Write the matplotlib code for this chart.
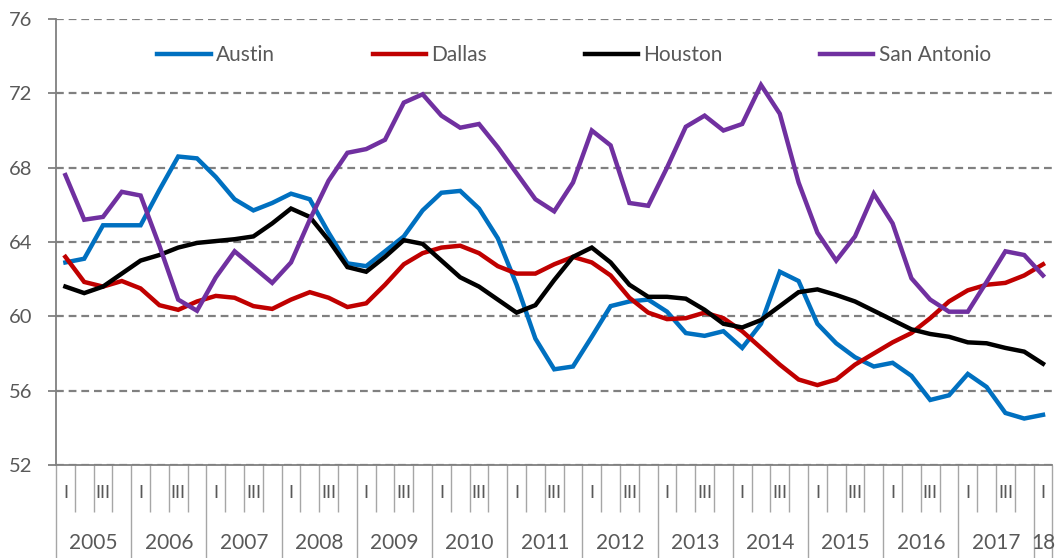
import numpy as np
import matplotlib
matplotlib.use("Agg")
import matplotlib.pyplot as plt
import matplotlib.transforms as mtrans

plt.rcParams['font.family'] = ['Lato', 'DejaVu Sans']

years = [str(y) for y in range(2005, 2018)] + ["18"]
quarter_labels = ["I", "", "III", ""]

austin = [62.9, 63.1, 64.9, 64.9, 64.9, 66.8, 68.6, 68.5, 67.5, 66.3, 65.7, 66.1, 66.6, 66.3,
          64.5, 62.85, 62.7, 63.5, 64.3, 65.7, 66.65, 66.75, 65.8, 64.2, 61.7, 58.8, 57.15,
          57.3, 58.9, 60.55, 60.8, 60.9, 60.25, 59.1, 58.95, 59.2, 58.3, 59.6, 62.4, 61.9,
          59.6, 58.55, 57.8, 57.3, 57.5, 56.8, 55.5, 55.75, 56.9, 56.2, 54.8, 54.5, 54.7]
dallas = [63.2, 61.85, 61.6, 61.9, 61.5, 60.6, 60.35, 60.8, 61.1, 61.0, 60.55, 60.4, 60.9,
          61.3, 61.0, 60.5, 60.7, 61.7, 62.8, 63.4, 63.7, 63.8, 63.4, 62.7, 62.3, 62.3, 62.8,
          63.2, 62.9, 62.2, 61.0, 60.2, 59.85, 59.9, 60.2, 59.9, 59.2, 58.3, 57.4, 56.6, 56.3,
          56.6, 57.4, 58.0, 58.6, 59.1, 59.9, 60.8, 61.4, 61.7, 61.8, 62.2, 62.8]
houston = [61.6, 61.25, 61.6, 62.3, 63.0, 63.3, 63.7, 63.95, 64.05, 64.15, 64.3, 65.0, 65.8,
           65.35, 64.1, 62.65, 62.4, 63.2, 64.1, 63.9, 63.0, 62.1, 61.6, 60.9, 60.2, 60.6,
           61.95, 63.2, 63.7, 62.9, 61.7, 61.05, 61.05, 60.95, 60.35, 59.6, 59.4, 59.8, 60.55,
           61.3, 61.45, 61.15, 60.8, 60.3, 59.8, 59.3, 59.05, 58.9, 58.6, 58.55, 58.3, 58.1, 57.45]
san_antonio = [67.6, 65.2, 65.35, 66.7, 66.5, 63.8, 60.9, 60.3, 62.1, 63.5, 62.65, 61.8, 62.9,
               65.2, 67.3, 68.8, 69.0, 69.5, 71.5, 71.95, 70.8, 70.15, 70.35, 69.1, 67.7, 66.3,
               65.65, 67.2, 70.0, 69.2, 66.1, 65.95, 68.0, 70.2, 70.8, 70.0, 70.35, 72.45, 70.9,
               67.2, 64.5, 63.0, 64.3, 66.6, 65.0, 62.05, 60.9, 60.25, 60.25, 61.85, 63.5, 63.3, 62.2]

series = [("Austin", austin, "#0070C0"), ("Dallas", dallas, "#C00000"),
          ("Houston", houston, "#000000"), ("San Antonio", san_antonio, "#7030A0")]

W, H = 1059, 558
fig = plt.figure(figsize=(W / 100, H / 100), dpi=100)
ax = fig.add_axes([56 / W, (H - 465) / H, (1052.4 - 56) / W, (465 - 19) / H])

n = len(austin)
x = np.arange(n)
for name, vals, col in series:
    ax.plot(x, vals, color=col, lw=3.2, label=name, solid_joinstyle='miter')

ax.set_xlim(-0.5, n - 0.5)
ax.set_ylim(52, 76)
ax.set_yticks(np.arange(52, 77, 4))
grey = "#808080"
txt = "#595959"
ax.yaxis.grid(True, color=grey, lw=1.6, linestyle=(0, (3.5, 2.2)))
ax.set_axisbelow(True)
for s in ["top", "right"]:
    ax.spines[s].set_visible(False)
ax.spines["left"].set_color(grey)
ax.spines["bottom"].set_color(grey)
ax.spines["left"].set_linewidth(1.3)
ax.spines["bottom"].set_linewidth(1.3)
ax.tick_params(axis="y", length=5.8, width=1.3, color=grey, labelsize=14.5,
               labelcolor=txt, pad=11)

# quarter separators (minor) and year separators (major)
year_bounds = np.arange(-0.5, n, 4)
year_bounds = np.append(year_bounds, n - 0.5)
q_bounds = [b for b in np.arange(-0.5, n, 1) if b not in year_bounds]
ax.set_xticks(year_bounds)
ax.set_xticks(q_bounds, minor=True)
ax.set_xticklabels([])
ax.tick_params(axis="x", which="major", length=67, width=1.0, color="#A6A6A6", direction="out")
ax.tick_params(axis="x", which="minor", length=34, width=1.0, color="#A6A6A6", direction="out")

trans = mtrans.blended_transform_factory(ax.transData, ax.transAxes)
ylab_q = -(493 - 465) / (465 - 19)
ylab_y = -(543 - 465) / (465 - 19)
for i in range(n):
    lab = quarter_labels[i % 4]
    if lab:
        ax.text(i, ylab_q, lab, transform=trans, ha="center", va="center",
                fontsize=13, color=txt, clip_on=False)
for k, yr in enumerate(years):
    start = 4 * k - 0.5
    end = min(4 * k + 3.5, n - 0.5)
    ax.text((start + end) / 2, ylab_y, yr, transform=trans, ha="center", va="center",
            fontsize=15, color=txt, clip_on=False)

leg = ax.legend(loc="center", bbox_to_anchor=(0.52, (465 - 55) / (465 - 19)), ncol=4,
                frameon=False, fontsize=15, handlelength=2.55, handletextpad=0.25,
                columnspacing=4.7)
for t in leg.get_texts():
    t.set_color(txt)

fig.savefig("out.png", dpi=100)
